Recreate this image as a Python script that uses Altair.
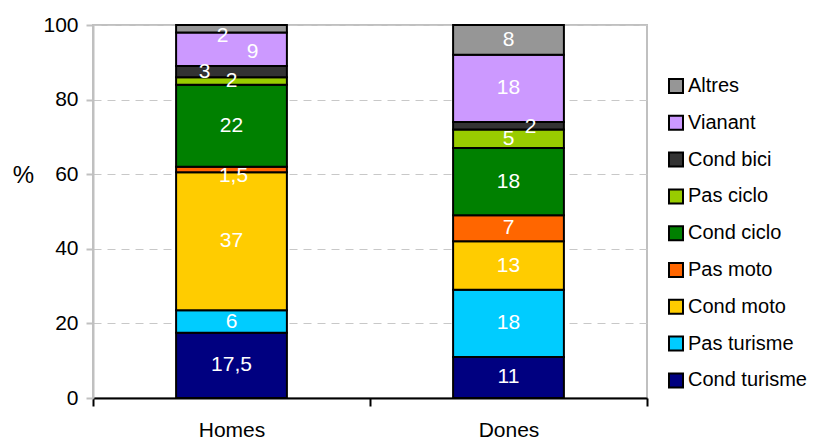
import altair as alt
import pandas as pd

groups = ["Homes", "Dones"]
categories = ["Cond turisme", "Pas turisme", "Cond moto", "Pas moto", "Cond ciclo",
              "Pas ciclo", "Cond bici", "Vianant", "Altres"]
homes = [17.5, 6, 37, 1.5, 22, 2, 3, 9, 2]
dones = [11, 18, 13, 7, 18, 5, 2, 18, 8]
colors = ["#000080", "#00CCFF", "#FFCC00", "#FF6600", "#008000",
          "#99CC00", "#333333", "#CC99FF", "#969696"]

# label nudges (pixels) for crowded small segments
nudges = {
    "Homes|Altres": (-9, 7),
    "Homes|Vianant": (21, 3),
    "Homes|Cond bici": (-27, 0),
    "Homes|Pas moto": (2, 6),
    "Dones|Cond bici": (22, 1),
}


def fmt(v):
    return f"{v:g}".replace(".", ",")


rows = []
for g, vals in zip(groups, [homes, dones]):
    for i, (c, v) in enumerate(zip(categories, vals)):
        rows.append({"group": g, "cat": c, "idx": i, "value": v,
                     "label": fmt(v), "key": f"{g}|{c}"})
df = pd.DataFrame(rows)

FONT = "Liberation Sans"
FS = 21

x_enc = alt.X("group:N", sort=groups, title=None,
              scale=alt.Scale(paddingInner=0, paddingOuter=0),
              axis=alt.Axis(labelAngle=0, domainColor="black", domainWidth=2,
                            tickColor="black", tickWidth=2, tickSize=8,
                            tickBand="extent", labelPadding=13, labelFontSize=FS,
                            labelColor="black", grid=False))

base = alt.Chart(df)

bars = base.mark_bar(width=alt.RelativeBandSize(0.4), stroke="black", strokeWidth=2).encode(
    x=x_enc,
    y=alt.Y("value:Q", stack="zero",
            scale=alt.Scale(domain=[0, 100], nice=False),
            axis=alt.Axis(values=[0, 20, 40, 60, 80, 100], domainColor="#c0c0c0",
                          domainWidth=2, tickColor="#c0c0c0", tickWidth=2, tickSize=7,
                          labelPadding=8, labelFontSize=FS, labelColor="black",
                          gridColor="#c8c8c8", gridDash=[8, 6], gridWidth=1,
                          title="%", titleAngle=0, titleX=-70, titleY=150,
                          titleAlign="center", titleBaseline="middle",
                          titleFontSize=24, titleFontWeight="normal",
                          titleColor="black")),
    color=alt.Color("cat:N",
                    scale=alt.Scale(domain=categories[::-1], range=colors[::-1]),
                    legend=alt.Legend(title=None, orient="none", legendX=573, legendY=51,
                                      symbolType="square", symbolSize=196,
                                      symbolStrokeColor="black", symbolStrokeWidth=2,
                                      labelFontSize=20, labelColor="black",
                                      labelOffset=2, rowPadding=14.8, padding=0,
                                      labelLimit=200)),
    order=alt.Order("idx:Q", sort="ascending"),
)

text_base = base.transform_stack(
    stack="value", groupby=["group"], sort=[alt.SortField("idx")], as_=["v0", "v1"]
).transform_calculate(mid="(datum.v0 + datum.v1) / 2")

text_enc = dict(x=alt.X("group:N", sort=groups), y=alt.Y("mid:Q"), text="label:N")

keys = list(nudges.keys())
cond = " && ".join([f"datum.key != '{k}'" for k in keys])
layers = [bars,
          text_base.transform_filter(cond).mark_text(
              color="white", fontSize=FS, baseline="middle", align="center").encode(**text_enc)]
for k, (dx, dy) in nudges.items():
    layers.append(text_base.transform_filter(f"datum.key == '{k}'").mark_text(
        color="white", fontSize=FS, baseline="middle", align="center", dx=dx, dy=dy
    ).encode(**text_enc))

chart = alt.layer(*layers).properties(
    width=554, height=373,
    autosize=alt.AutoSizeParams(type="none"),
    padding={"left": 85, "top": 17, "right": 160, "bottom": 50},
).configure(font=FONT).configure_view(stroke="#c0c0c0", strokeWidth=2)

chart.save("out.html", embed_options={"renderer": "svg", "actions": False})
